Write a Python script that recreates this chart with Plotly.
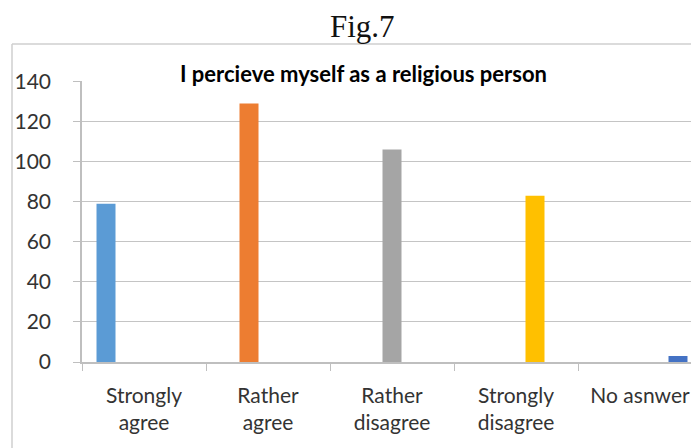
import plotly.graph_objects as go

categories = ["Strongly<br>agree", "Rather<br>agree", "Rather<br>disagree", "Strongly<br>disagree", "No asnwer"]
values = [79, 129, 106, 83, 3]
colors = ["#5B9BD5", "#ED7D31", "#A5A5A5", "#FFC000", "#4472C4"]
y_ticks = [0, 20, 40, 60, 80, 100, 120, 140]

# page body has an 8px margin; layout is expressed in figure pixels
OFF = 8
W, H = 699, 448
PL, PR, PT, PB = 82 - OFF, 702 - OFF, 81 - OFF, 362 - OFF   # plot area in figure px
ML, MT = PL, PT
MR = W - PR
MB = H - PB
pw = PR - PL
ph = PB - PT

def px_x(x):
    return (x - OFF - PL) / pw

def px_y(y):
    return 1 - (y - OFF - PT) / ph

fig = go.Figure()
for i, (cat, val, col) in enumerate(zip(categories, values, colors)):
    fig.add_trace(go.Bar(x=[cat], y=[val], marker=dict(color=col, line=dict(width=0)),
                         offsetgroup=str(i), showlegend=False, hoverinfo="x+y"))

font_main = "Lato, 'Open Sans', sans-serif"
txt = "#333333"

fig.update_layout(
    width=W, height=H,
    margin=dict(l=ML, r=MR, t=MT, b=MB),
    paper_bgcolor="white", plot_bgcolor="white",
    barmode="group", bargap=0.234, bargroupgap=0,
    font=dict(family=font_main, color=txt),
    xaxis=dict(categoryorder="array", categoryarray=categories,
               showline=True, linecolor="#BFBFBF", linewidth=1.5,
               ticks="outside", tickson="boundaries", ticklen=7, tickcolor="#BFBFBF",
               ticklabelstandoff=14,
               tickfont=dict(size=21, color=txt, family=font_main),
               showgrid=False, zeroline=False),
    yaxis=dict(range=[0, 140.2], tickvals=y_ticks,
               showline=True, linecolor="#BFBFBF", linewidth=1.5,
               ticks="outside", ticklen=7, tickcolor="#BFBFBF",
               ticklabelstandoff=18,
               tickfont=dict(size=21, color=txt, family=font_main),
               showgrid=True, gridcolor="#C4C4C4", gridwidth=1.2, zeroline=False),
    annotations=[
        dict(text="Fig.7", xref="paper", yref="paper", x=px_x(362), y=px_y(27),
             xanchor="center", yanchor="middle", showarrow=False,
             font=dict(family="'Liberation Serif', serif", size=31, color="#111111")),
        dict(text="<b>I percieve myself as a religious person</b>",
             xref="paper", yref="paper", x=px_x(363), y=px_y(73),
             xanchor="center", yanchor="middle", showarrow=False,
             font=dict(size=22, color="#000000", family=font_main)),
    ],
    shapes=[
        dict(type="line", xref="paper", yref="paper",
             x0=px_x(12), x1=px_x(12), y0=px_y(44), y1=px_y(460),
             line=dict(color="#CFCFCF", width=1.5)),
        dict(type="line", xref="paper", yref="paper",
             x0=px_x(12), x1=px_x(720), y0=px_y(44), y1=px_y(44),
             line=dict(color="#CFCFCF", width=1.5)),
    ],
)

fig.write_html("out.html")
